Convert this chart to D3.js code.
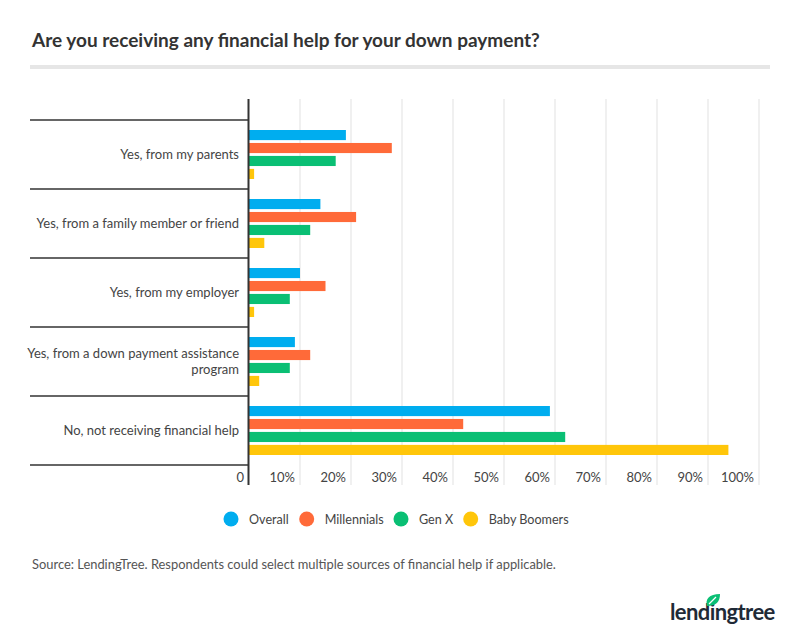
<!DOCTYPE html>
<html><head><meta charset="utf-8">
<script src="https://cdn.jsdelivr.net/npm/d3@7"></script>
<style>
body{margin:0;background:#fff;}
text{font-family:Lato,"Open Sans",sans-serif;}
</style></head>
<body><svg id="c" width="800" height="640"></svg>
<script>
const categories = ["Yes, from my parents","Yes, from a family member or friend","Yes, from my employer","Yes, from a down payment assistance program","No, not receiving financial help"];
const seriesNames = ["Overall","Millennials","Gen X","Baby Boomers"];
const overall = [19,14,10,9,59];
const millennials = [28,21,15,12,42];
const genX = [17,12,8,8,62];
const babyBoomers = [1,3,1,2,94];
const ticks = [0,10,20,30,40,50,60,70,80,90,100];
const tickLabels = ["0","10%","20%","30%","40%","50%","60%","70%","80%","90%","100%"];
const colors = ["#00adef","#ff6a39","#0abf74","#ffc60a"];
const seriesValues = [overall, millennials, genX, babyBoomers];

const svg = d3.select("#c");
svg.append("rect").attr("width",800).attr("height",640).attr("fill","#fff");

svg.append("text").attr("x",32).attr("y",47).attr("font-size",19).attr("font-weight",700)
  .attr("fill","#333").text("Are you receiving any financial help for your down payment?");
svg.append("rect").attr("x",30).attr("y",65).attr("width",740).attr("height",4).attr("fill","#e6e6e6");

const x = d3.scaleLinear().domain([0,100]).range([249,759]);
const y = d3.scaleBand().domain(categories).range([120,465]).paddingInner(0).paddingOuter(0);
const yi = d3.scaleBand().domain(seriesNames).range([10,59]).paddingInner(0.22).paddingOuter(0);

// gridlines
svg.append("g").selectAll("line").data(ticks.slice(1)).join("line")
  .attr("x1",d=>x(d)).attr("x2",d=>x(d)).attr("y1",99).attr("y2",485)
  .attr("stroke","#e6e6e6").attr("stroke-width",1.2);

// category separators
const seps = categories.map(c=>y(c)).concat([y.range()[1]]);
svg.append("g").selectAll("line").data(seps).join("line")
  .attr("x1",30).attr("x2",248).attr("y1",d=>d).attr("y2",d=>d)
  .attr("stroke","#333").attr("stroke-width",1.3);

// bars
const bars = [];
categories.forEach((c,i)=>seriesNames.forEach((s,j)=>bars.push({c,s,v:seriesValues[j][i],col:colors[j]})));
svg.append("g").selectAll("rect").data(bars).join("rect")
  .attr("x",x(0)).attr("y",d=>y(d.c)+yi(d.s)).attr("height",yi.bandwidth())
  .attr("width",d=>x(d.v)-x(0)).attr("fill",d=>d.col);

// axis line
svg.append("line").attr("x1",248.5).attr("x2",248.5).attr("y1",99).attr("y2",485)
  .attr("stroke","#333").attr("stroke-width",2);

// tick labels
svg.append("g").selectAll("text").data(ticks).join("text")
  .attr("x",d=>x(d)-5).attr("y",482).attr("text-anchor","end").attr("font-size",13)
  .attr("fill","#444").text((d,i)=>tickLabels[i]);

// category labels
const labelLines = {
  "Yes, from a down payment assistance program":["Yes, from a down payment assistance","program"]
};
categories.forEach(c=>{
  const lines = labelLines[c] || [c];
  const cy = y(c)+y.bandwidth()/2;
  const t = svg.append("text").attr("x",239).attr("text-anchor","end").attr("font-size",13).attr("fill","#444");
  lines.forEach((l,k)=>{
    t.append("tspan").attr("x",239).attr("y",cy+4.5+(k-(lines.length-1)/2)*15.5).text(l);
  });
});

// legend
const legX = [231,306.7,401,470.7];
const lg = svg.append("g").selectAll("g").data(seriesNames).join("g");
lg.append("circle").attr("cx",(d,i)=>legX[i]).attr("cy",519).attr("r",7.5).attr("fill",(d,i)=>colors[i]);
lg.append("text").attr("x",(d,i)=>legX[i]+18).attr("y",523.5).attr("font-size",12.6).attr("fill","#444").text(d=>d);

// source
svg.append("text").attr("x",32).attr("y",569).attr("font-size",12.9).attr("fill","#555")
  .text("Source: LendingTree. Respondents could select multiple sources of financial help if applicable.");

// logo
svg.append("text").attr("x",670).attr("y",620).attr("font-size",22).attr("font-weight",700)
  .attr("fill","#1f2a36").attr("letter-spacing",-0.6).text("lendingtree");
svg.append("path").attr("d","M707,606 C705,599 709,594 720,594 C720,602 716,606 707,606 Z")
  .attr("fill","#0abf74");
svg.append("path").attr("d","M709,604 L716,597").attr("stroke","#fff").attr("stroke-width",1.2);
</script></body></html>
